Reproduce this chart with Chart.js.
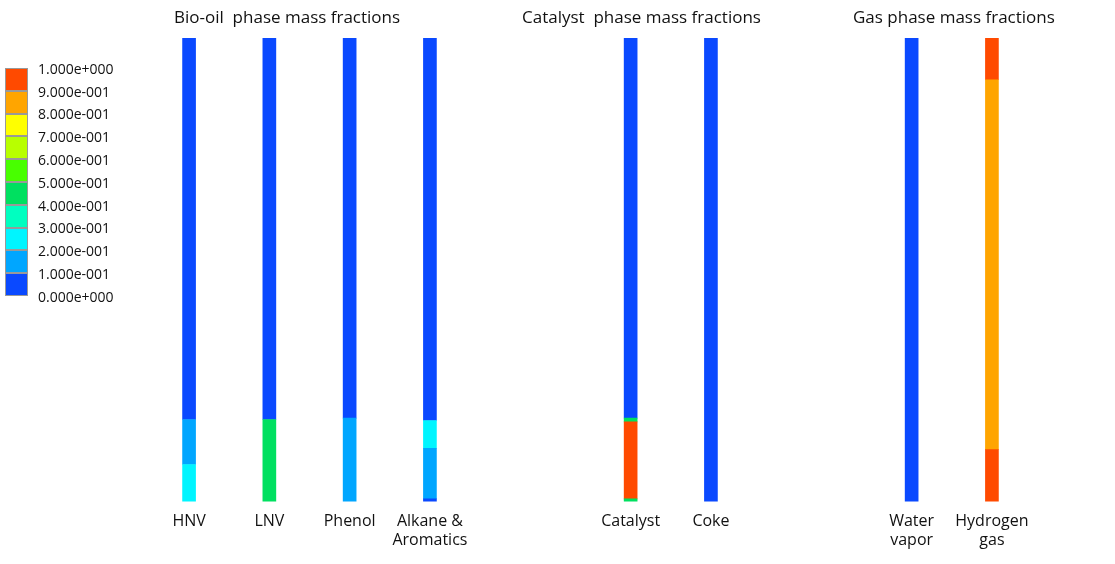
<!DOCTYPE html>
<html>
<head>
<meta charset="utf-8">
<script src="https://cdn.jsdelivr.net/npm/chart.js@4"></script>
<style>
  body { margin: 0; background: #fff; font-family: "Open Sans", sans-serif; }
  #wrap { position: relative; width: 1115px; height: 564px; }
  .title { position: absolute; top: 5px; font-size: 17px; color: #111; white-space: pre; }
  #legend { position: absolute; left: 5px; top: 68px; }
  .key { display: flex; align-items: center; height: 22.8px; }
  .sw { width: 23px; height: 22.8px; box-sizing: border-box; border: 0.5px solid #999; }
  .lab { margin-left: 10px; font-size: 14px; color: #111; margin-top: -22px; }
</style>
</head>
<body>
<div id="wrap">
  <canvas id="c" width="1115" height="564"></canvas>
  <div class="title" style="left:174px">Bio-oil  phase mass fractions</div>
  <div class="title" style="left:522px">Catalyst  phase mass fractions</div>
  <div class="title" style="left:853px">Gas phase mass fractions</div>
  <div id="legend"></div>
</div>
<script>
// contour levels, lowest first
const levelColors = ['#0a49ff', '#00a6ff', '#00f5ff', '#00ffc0', '#00e060', '#48ff00', '#b8ff00', '#ffff00', '#ffa500', '#ff4a00'];
const levelLabels = ['0.000e+000', '1.000e-001', '2.000e-001', '3.000e-001', '4.000e-001', '5.000e-001', '6.000e-001', '7.000e-001', '8.000e-001', '9.000e-001', '1.000e+000'];

// slots along x (spacers are blank)
const slotLabels = ['HNV', '', 'LNV', '', 'Phenol', '', ['Alkane &', 'Aromatics'], '', '', '', '', 'Catalyst', '', 'Coke', '', '', '', '', ['Water', 'vapor'], '', ['Hydrogen', 'gas']];

// bands per column: [from, to, level]
const hnvBands = [[0, 0.08, 2], [0.08, 0.177, 1], [0.177, 1, 0]];
const lnvBands = [[0, 0.177, 4], [0.177, 1, 0]];
const phenolBands = [[0, 0.18, 1], [0.18, 1, 0]];
const alkaneBands = [[0, 0.006, 0], [0.006, 0.115, 1], [0.115, 0.175, 2], [0.175, 1, 0]];
const catalystBands = [[0, 0.006, 4], [0.006, 0.172, 9], [0.172, 0.18, 4], [0.18, 1, 0]];
const cokeBands = [[0, 1, 0]];
const waterBands = [[0, 1, 0]];
const hydrogenBands = [[0, 0.112, 9], [0.112, 0.91, 8], [0.91, 1, 9]];

const columns = { 0: hnvBands, 2: lnvBands, 4: phenolBands, 6: alkaneBands, 11: catalystBands, 13: cokeBands, 18: waterBands, 20: hydrogenBands };

const maxBands = 4;
const datasets = [];
for (let i = 0; i < maxBands; i++) {
  const data = slotLabels.map(() => null);
  const colors = slotLabels.map(() => 'rgba(0,0,0,0)');
  for (const k in columns) {
    const b = columns[k][i];
    if (b) { data[k] = [b[0], b[1]]; colors[k] = levelColors[b[2]]; }
  }
  datasets.push({ data: data, backgroundColor: colors, barThickness: 13, borderWidth: 0 });
}

// colour key
const legend = document.getElementById('legend');
for (let i = levelColors.length - 1; i >= 0; i--) {
  const row = document.createElement('div');
  row.className = 'key';
  row.innerHTML = '<div class="sw" style="background:' + levelColors[i] + '"></div><div class="lab">' + levelLabels[i + 1] + '</div>';
  legend.appendChild(row);
}
const last = document.createElement('div');
last.className = 'key';
last.innerHTML = '<div style="width:23px"></div><div class="lab">' + levelLabels[0] + '</div>';
legend.appendChild(last);

new Chart(document.getElementById('c'), {
  type: 'bar',
  data: { labels: slotLabels, datasets: datasets },
  options: {
    responsive: false,
    animation: false,
    layout: { padding: { left: 169, right: 103, top: 38, bottom: 12 } },
    plugins: { legend: { display: false }, tooltip: { enabled: false } },
    scales: {
      x: {
        stacked: true,
        grid: { display: false },
        border: { display: false },
        ticks: { autoSkip: false, maxRotation: 0, color: '#111', font: { family: 'Open Sans', size: 16 }, padding: 2 }
      },
      y: {
        stacked: false,
        min: 0, max: 1,
        display: false
      }
    }
  }
});
</script>
</body>
</html>
